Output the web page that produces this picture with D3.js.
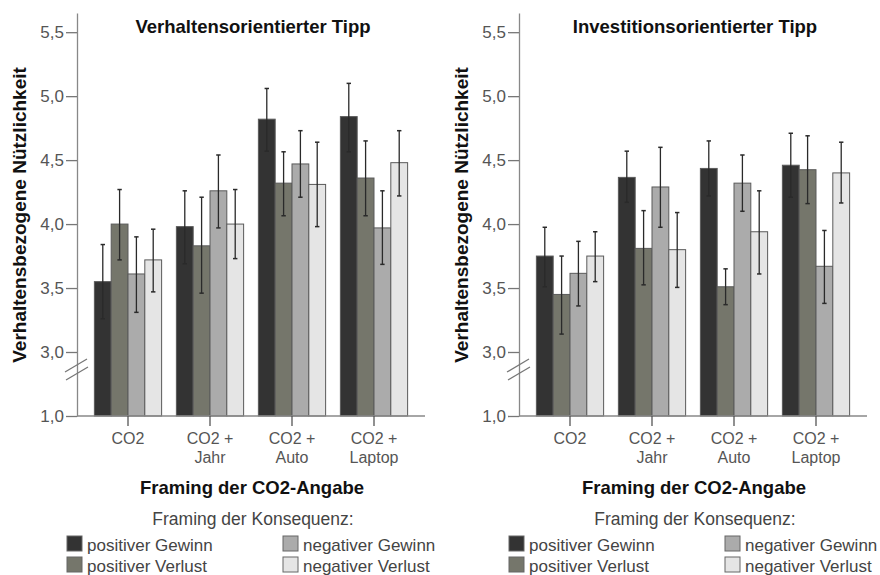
<!DOCTYPE html>
<html><head><meta charset="utf-8">
<script src="https://cdn.jsdelivr.net/npm/d3@7"></script>
<style>
body{margin:0;background:#fff;}
text{font-family:"Liberation Sans",Arial,sans-serif;}
</style></head>
<body><svg id="c" width="880" height="575"></svg>
<script>
const categories = [["CO2"], ["CO2 +", "Jahr"], ["CO2 +", "Auto"], ["CO2 +", "Laptop"]];
const series = ["positiver Gewinn", "positiver Verlust", "negativer Gewinn", "negativer Verlust"];
const panelTitles = ["Verhaltensorientierter Tipp", "Investitionsorientierter Tipp"];
const yTicks = [1.0, 3.0, 3.5, 4.0, 4.5, 5.0, 5.5];

// Verhaltensorientierter Tipp: [category][series]
const meansA = [[3.55, 4.00, 3.61, 3.72], [3.98, 3.83, 4.26, 4.00], [4.82, 4.32, 4.47, 4.31], [4.84, 4.36, 3.97, 4.48]];
const upperA = [[3.84, 4.27, 3.90, 3.96], [4.26, 4.21, 4.54, 4.27], [5.06, 4.565, 4.73, 4.64], [5.10, 4.65, 4.26, 4.73]];
const lowerA = [[3.26, 3.72, 3.31, 3.47], [3.69, 3.46, 3.97, 3.73], [4.57, 4.065, 4.21, 3.98], [4.565, 4.065, 3.685, 4.22]];
// Investitionsorientierter Tipp
const meansB = [[3.75, 3.45, 3.615, 3.75], [4.365, 3.81, 4.29, 3.80], [4.435, 3.51, 4.32, 3.94], [4.46, 4.425, 3.67, 4.40]];
const upperB = [[3.975, 3.75, 3.865, 3.94], [4.57, 4.105, 4.60, 4.09], [4.65, 3.65, 4.54, 4.26], [4.71, 4.69, 3.95, 4.64]];
const lowerB = [[3.51, 3.14, 3.36, 3.55], [4.17, 3.525, 3.975, 3.505], [4.22, 3.37, 4.10, 3.61], [4.21, 4.16, 3.38, 4.165]];

const colors = ["#333333", "#75766b", "#ababab", "#e5e5e5"];

const svg = d3.select("#c");
const panels = [
  {title: panelTitles[0], means: meansA, upper: upperA, lower: lowerA, ox: 0},
  {title: panelTitles[1], means: meansB, upper: upperB, lower: lowerB, ox: 442}
];

const y = d3.scaleLinear().domain([1, 3, 5.65]).range([416, 352, 13]);
const fmt = d => d3.format(".1f")(d).replace(".", ",");

panels.forEach(p => {
  const g = svg.append("g").attr("transform", `translate(${p.ox},0)`);
  const x0 = 77, x1 = 425;
  const x = d3.scaleBand().domain(d3.range(categories.length)).range([x0 + 10, x1 - 10]).paddingInner(0.18).paddingOuter(0.09);
  const xs = d3.scaleBand().domain(d3.range(series.length)).range([0, x.bandwidth()]);

  // bars
  categories.forEach((c, ci) => {
    series.forEach((s, si) => {
      const bx = x(ci) + xs(si);
      g.append("rect")
        .attr("x", bx).attr("y", y(p.means[ci][si]))
        .attr("width", xs.bandwidth()).attr("height", y(1) - y(p.means[ci][si]))
        .attr("fill", colors[si]).attr("stroke", "#5a5a5a").attr("stroke-width", 1);
    });
  });
  // error bars
  categories.forEach((c, ci) => {
    series.forEach((s, si) => {
      const cx = x(ci) + xs(si) + xs.bandwidth() / 2;
      const yu = y(p.upper[ci][si]), yl = y(p.lower[ci][si]);
      g.append("line").attr("x1", cx).attr("x2", cx).attr("y1", yu).attr("y2", yl)
        .attr("stroke", "#2a2a2a").attr("stroke-width", 1.3);
      [yu, yl].forEach(yy => g.append("line").attr("x1", cx - 2.2).attr("x2", cx + 2.2).attr("y1", yy).attr("y2", yy)
        .attr("stroke", "#2a2a2a").attr("stroke-width", 1.5));
    });
  });

  // y axis
  const ya = d3.axisLeft(y).tickValues(yTicks).tickFormat(fmt).tickSize(11).tickPadding(2).tickSizeOuter(0);
  const yg = g.append("g").attr("transform", `translate(${x0},0)`).call(ya);
  yg.select(".domain").attr("stroke", "#888").attr("stroke-width", 1.3);
  yg.selectAll(".tick line").attr("stroke", "#777").attr("stroke-width", 1.3);
  yg.selectAll(".tick text").attr("fill", "#555").style("font-size", "17px");

  // x axis
  g.append("line").attr("x1", x0).attr("x2", x1).attr("y1", y(1)).attr("y2", y(1)).attr("stroke", "#888").attr("stroke-width", 1.3);
  categories.forEach((c, ci) => {
    const cx = x(ci) + x.bandwidth() / 2;
    g.append("line").attr("x1", cx).attr("x2", cx).attr("y1", y(1)).attr("y2", y(1) + 10).attr("stroke", "#555").attr("stroke-width", 1.3);
    const t = g.append("text").attr("text-anchor", "middle").attr("fill", "#555").style("font-size", "16px");
    c.forEach((line, li) => t.append("tspan").attr("x", cx).attr("y", 444 + li * 18.5).text(line));
  });

  // axis break marks
  g.append("line").attr("x1", 65).attr("y1", 372).attr("x2", 87).attr("y2", 359).attr("stroke", "#777").attr("stroke-width", 1.3);
  g.append("line").attr("x1", 66).attr("y1", 380).attr("x2", 88).attr("y2", 367).attr("stroke", "#777").attr("stroke-width", 1.3);

  // titles
  g.append("text").attr("x", 253).attr("y", 33).attr("text-anchor", "middle").attr("fill", "#111")
    .style("font-size", "18.5px").style("font-weight", "bold").text(p.title);
  g.append("text").attr("transform", "translate(26,215) rotate(-90)").attr("text-anchor", "middle").attr("fill", "#111")
    .style("font-size", "19px").style("font-weight", "bold").text("Verhaltensbezogene Nützlichkeit");
  g.append("text").attr("x", 252).attr("y", 494).attr("text-anchor", "middle").attr("fill", "#111")
    .style("font-size", "18.5px").style("font-weight", "bold").text("Framing der CO2-Angabe");

  // legend
  g.append("text").attr("x", 253).attr("y", 525).attr("text-anchor", "middle").attr("fill", "#444")
    .style("font-size", "17.5px").text("Framing der Konsequenz:");
  const lx = [67, 283], ly = [536, 557];
  series.forEach((s, si) => {
    const col = si < 2 ? 0 : 1, row = si % 2;
    g.append("rect").attr("x", lx[col]).attr("y", ly[row]).attr("width", 15).attr("height", 15)
      .attr("fill", colors[si]).attr("stroke", "#666").attr("stroke-width", 1);
    g.append("text").attr("x", lx[col] + 20).attr("y", ly[row] + 15).attr("fill", "#444")
      .style("font-size", "17px").text(s);
  });
});
</script></body></html>
